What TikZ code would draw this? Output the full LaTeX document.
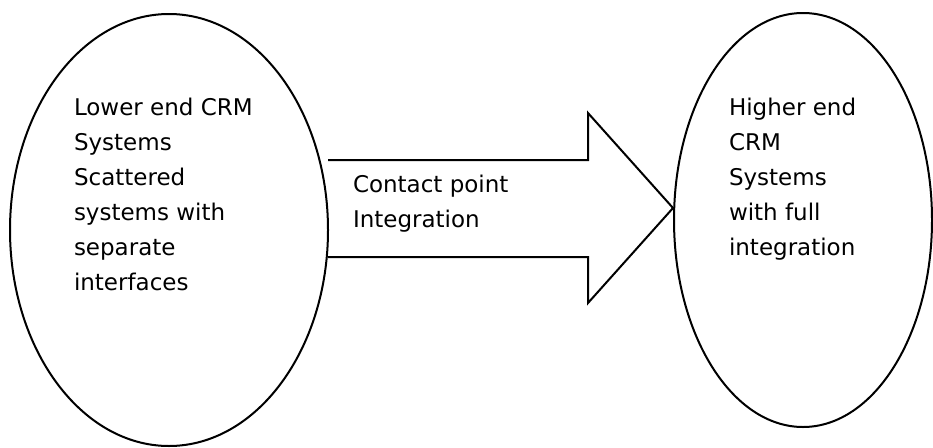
\documentclass[tikz,border=0pt]{standalone}
\usepackage{fontspec}
\setmainfont{DejaVu Sans}
\begin{document}
\begin{tikzpicture}[x=1pt,y=-1pt,
  line width=2pt,
  lbl/.style={anchor=base west,inner sep=0pt,align=left,font=\fontsize{23}{35}\selectfont},
]
\useasboundingbox (0,0) rectangle (933,447);
\draw (169,230) ellipse [x radius=159, y radius=216];
\draw (803,220) ellipse [x radius=129, y radius=207];
\coordinate (s1) at (328,160);
\coordinate (h1) at (588,160);
\coordinate (h2) at (588,113);
\coordinate (tip) at (673,208);
\coordinate (h3) at (588,303);
\coordinate (h4) at (588,257);
\coordinate (s4) at (328,257);
\draw[line join=miter] (s1) -- (h1) -- (h2) -- (tip) -- (h3) -- (h4) -- (s4);
\node[lbl] (lt) at (73,290) {Lower end CRM\\Systems\\Scattered\\systems with\\separate\\interfaces};
\node[lbl] (rt) at (728,255) {Higher end\\CRM\\Systems\\with full\\integration};
\node[lbl] (ct) at (352,227) {Contact point\\Integration};
\end{tikzpicture}
\end{document}
